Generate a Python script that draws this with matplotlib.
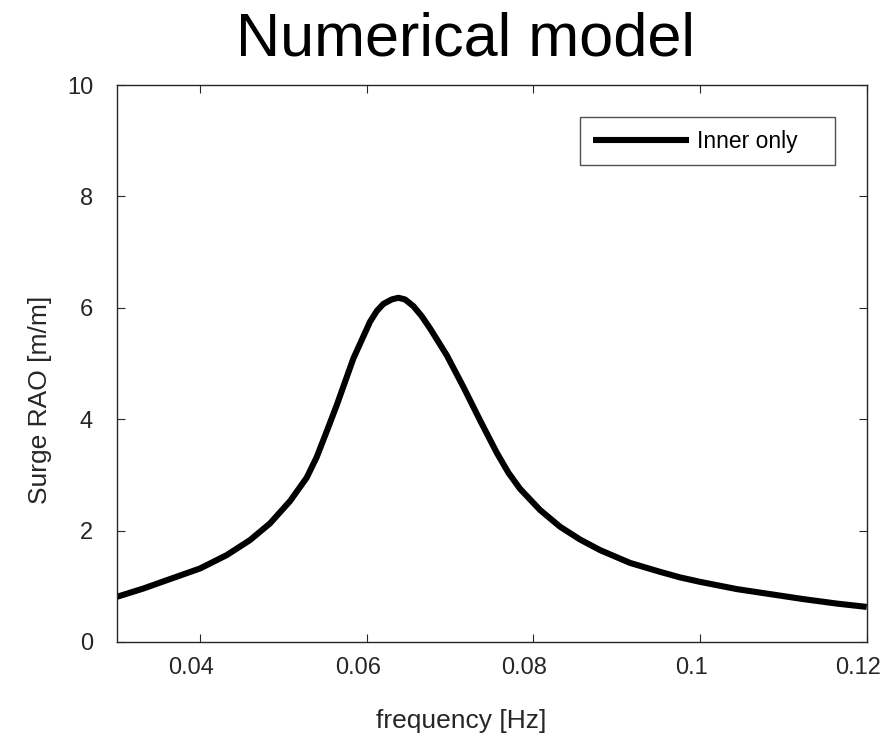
import matplotlib.pyplot as plt
from matplotlib.transforms import ScaledTranslation

plt.rcParams['font.family'] = ['Liberation Sans', 'DejaVu Sans']

# Surge RAO
freq = [0.0300, 0.0332, 0.0364, 0.0400, 0.0432, 0.0460, 0.0484, 0.0508, 0.0528,
        0.0540, 0.0552, 0.0564, 0.0584, 0.0604, 0.0612, 0.0620, 0.0630, 0.0638,
        0.0646, 0.0656, 0.0666, 0.0676, 0.0696, 0.0716, 0.0736, 0.0756, 0.0770,
        0.0784, 0.0808, 0.0832, 0.0856, 0.0880, 0.0916, 0.0952, 0.0976, 0.1000,
        0.1044, 0.1084, 0.1124, 0.1164, 0.1200]
rao = [0.81, 0.96, 1.13, 1.32, 1.56, 1.83, 2.13, 2.53, 2.95,
       3.32, 3.78, 4.25, 5.09, 5.75, 5.94, 6.07, 6.15, 6.18,
       6.15, 6.03, 5.85, 5.63, 5.15, 4.58, 3.98, 3.40, 3.04,
       2.75, 2.37, 2.07, 1.84, 1.65, 1.42, 1.26, 1.16, 1.08,
       0.95, 0.86, 0.77, 0.69, 0.63]

xticks = [0.04, 0.06, 0.08, 0.1, 0.12]
xticklabels = ['0.04', '0.06', '0.08', '0.1', '0.12']
yticks = [0, 2, 4, 6, 8, 10]

W, H = 889, 739
fig = plt.figure(figsize=(W / 100, H / 100), dpi=100)
ax = fig.add_axes([116.7 / W, 1 - 642 / H, 750 / W, 557 / H])

ax.plot(freq, rao, color='black', linewidth=4.4, label='Inner only',
        solid_joinstyle='round', solid_capstyle='butt')

ax.set_xlim(0.03, 0.12)
ax.set_ylim(0, 10)
ax.set_xticks(xticks)
ax.set_xticklabels(xticklabels)
ax.set_yticks(yticks)
gray = '#262626'
ax.tick_params(direction='in', top=True, right=True, labelsize=17, length=5.8,
               color=gray, labelcolor=gray)
ax.tick_params(axis='x', pad=11)
ax.tick_params(axis='y', pad=17)
for s in ax.spines.values():
    s.set_color(gray)
    s.set_linewidth(1.0)

# x tick labels sit slightly left of their ticks in the original
shift = ScaledTranslation(-9 / 100, 0, fig.dpi_scale_trans)
for lab in ax.get_xticklabels():
    lab.set_transform(lab.get_transform() + shift)

fig.text(461 / W, 1 - 728 / H, 'frequency [Hz]', fontsize=19, color=gray,
         ha='center', va='baseline')
fig.text(40 / W, 1 - 400 / H, 'Surge RAO [m/m]', fontsize=19, color=gray,
         ha='center', va='center', rotation=90)
fig.text(465 / W, 1 - 55 / H, 'Numerical model', fontsize=44, color='black',
         ha='center', va='baseline')

leg = ax.legend(loc='upper left', bbox_to_anchor=(0.6177, 0.8546, 0.34, 0.0879),
                mode='expand', borderaxespad=0, fontsize=16.5, frameon=True,
                fancybox=False, handlelength=4.2, handletextpad=0.34,
                borderpad=0.55)
leg.get_frame().set_edgecolor(gray)
leg.get_frame().set_linewidth(1.0)
for t in leg.get_texts():
    t.set_color('black')

fig.savefig('out.png', dpi=100)
